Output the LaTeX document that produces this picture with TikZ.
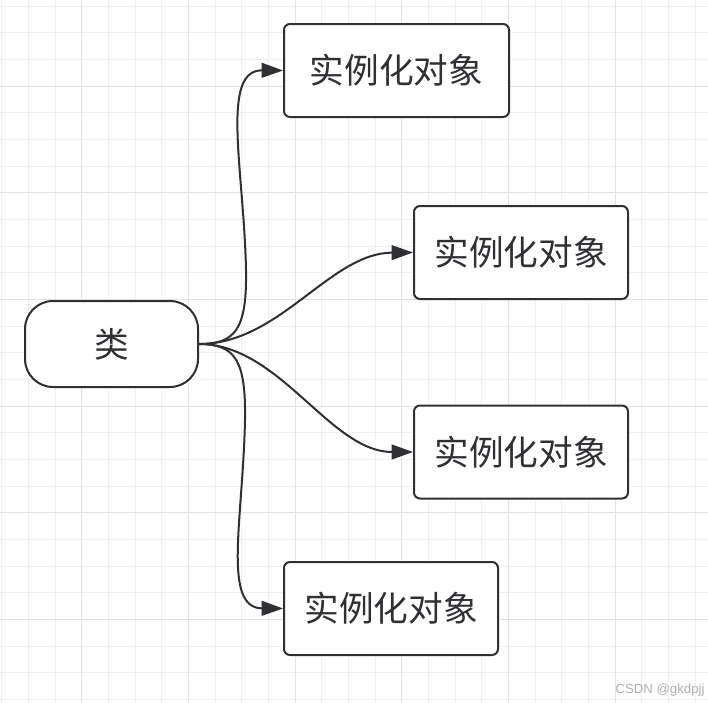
\documentclass[tikz,border=0pt]{standalone}
\usepackage{fontspec}
\newfontfamily\cjk{Noto Sans CJK SC}
\newfontfamily\wmfont{Liberation Sans}
\usepackage{tikz}
\usetikzlibrary{calc}
\usetikzlibrary{positioning}
\usetikzlibrary{arrows.meta}

\definecolor{inkgrey}{RGB}{46,48,51}
\definecolor{gridminor}{RGB}{240,240,240}
\definecolor{gridmajor}{RGB}{226,226,226}
\definecolor{markgrey}{RGB}{176,176,176}

\tikzset{
  clsbox/.style={draw=inkgrey, line width=1.5pt, fill=white, rounded corners=21pt, minimum width=129.75pt, minimum height=64.5pt, inner sep=0pt, text=inkgrey, font=\cjk\fontsize{26}{30}\selectfont},
  objbox/.style={draw=inkgrey, line width=1.5pt, fill=white, rounded corners=4.5pt, minimum width=160.5pt, minimum height=69.75pt, inner sep=0pt, text=inkgrey, font=\cjk\fontsize{26}{30}\selectfont},
  link/.style={draw=inkgrey, line width=1.5pt, -{Triangle[length=16pt,width=11pt]}},
}

\begin{document}
\begin{tikzpicture}[x=0.75pt,y=0.75pt,yscale=-1,xscale=1]
            \useasboundingbox (0,0) rectangle (708,703);
            \fill[white] (0,0) rectangle (708,703);

            %Grid Lines
            \foreach \i in {0,...,26} {
              \draw[gridminor, line width=0.75pt] ({1.7+26.667*\i},0) -- ({1.7+26.667*\i},703);
              \draw[gridminor, line width=0.75pt] (0,{6+26.667*\i}) -- (708,{6+26.667*\i});
            }
            \foreach \k in {0,...,5} {
              \draw[gridmajor, line width=0.75pt] ({81.7+106.667*\k},0) -- ({81.7+106.667*\k},703);
              \draw[gridmajor, line width=0.75pt] (0,{86+106.667*\k}) -- (708,{86+106.667*\k});
            }

            %Shape: Rounded Rect
            \node[clsbox] (cls) at (111.5,344) {类};
            %Shape: Rectangle
            \node[objbox, minimum width=168.75pt] (obj1) at (396.5,70.5) {实例化对象};
            %Shape: Rectangle
            \node[objbox] (obj2) at (521,252.5) {实例化对象};
            %Shape: Rectangle
            \node[objbox] (obj3) at (521,452) {实例化对象};
            %Shape: Rectangle
            \node[objbox] (obj4) at (391,608.5) {实例化对象};

            %Curve Lines
            \draw[link] (cls.east) .. controls (235,344) and (247,330) .. (246,270) .. controls (244,170) and (220,70) .. (obj1.west);
            %Curve Lines
            \draw[link] (cls.east) .. controls (280,344) and (330,253) .. (obj2.west);
            %Curve Lines
            \draw[link] (cls.east) .. controls (280,344) and (330,452) .. (obj3.west);
            %Curve Lines
            \draw[link] (cls.east) .. controls (235,344) and (246,360) .. (245,420) .. controls (243,520) and (222,608) .. (obj4.west);

            % Text Node
            \node[text=markgrey, font=\wmfont\fontsize{9.9}{12}\selectfont] (mark) at (660,690) {CSDN @gkdpjj};

\end{tikzpicture}
\end{document}
